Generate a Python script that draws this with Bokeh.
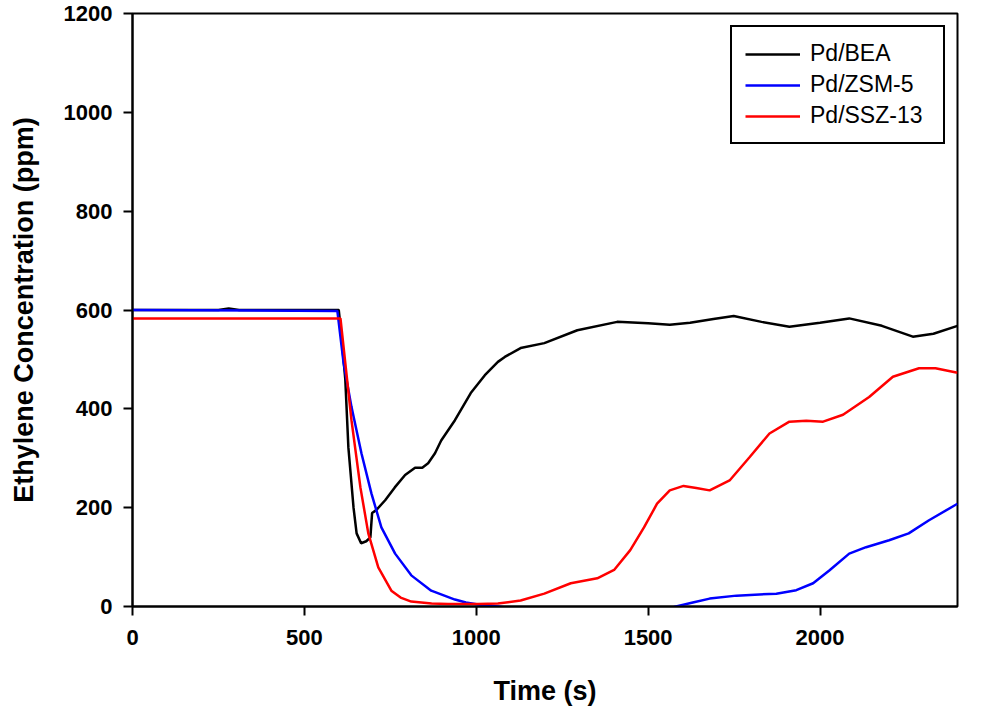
from bokeh.plotting import figure
from bokeh.models import Range1d, FixedTicker
from bokeh.embed import file_html
from bokeh.resources import INLINE

# ---- data ----
bea_t = [0, 250, 280, 310, 600, 606, 619, 628, 643, 652, 665, 680, 692, 697, 709, 735, 763, 793,
         822, 843, 860, 880, 898, 938, 984, 1025, 1063, 1083, 1129, 1198, 1294, 1410, 1500, 1563,
         1622, 1690, 1749, 1830, 1911, 2000, 2085, 2180, 2270, 2330, 2400]
bea_c = [600, 600, 603, 600, 600, 560, 460, 322, 200, 148, 128, 132, 140, 189, 195, 215, 241, 266,
         281, 281, 290, 310, 336, 377, 432, 468, 495, 505, 523, 533, 559, 576, 573, 570,
         574, 582, 588, 576, 566, 574, 583, 568, 546, 552, 568]

zsm_t = [0, 596, 614, 637, 666, 695, 724, 764, 811, 869, 938, 970, 1005, 1063, 1150, 1300, 1450, 1540,
         1575, 1630, 1679, 1757, 1873, 1931, 1980, 2027, 2085, 2134, 2201, 2258, 2316, 2400]
zsm_c = [600, 598, 493, 404, 310, 229, 160, 107, 63, 32, 14, 8, 4, 0, -8, -12, -10, -5,
         -1, 8, 16, 22, 26, 33, 47, 73, 107, 120, 134, 148, 174, 208]

ssz_t = [0, 605, 619, 637, 663, 686, 715, 753, 780, 811, 870, 918, 1005, 1063, 1129, 1198, 1275, 1352,
         1401, 1448, 1488, 1526, 1563, 1603, 1640, 1679, 1737, 1795, 1853, 1911, 1960, 2009, 2067,
         2143, 2212, 2288, 2336, 2400]
ssz_c = [583, 583, 493, 377, 241, 148, 79, 32, 18, 10, 6, 5, 5, 6, 12, 26, 47, 57,
         74, 114, 160, 208, 235, 244, 240, 235, 255, 302, 350, 374, 376, 374, 388,
         424, 465, 482, 482, 473]

x_ticks = [0, 500, 1000, 1500, 2000]
y_ticks = [0, 200, 400, 600, 800, 1000, 1200]

FONT = "Liberation Sans"

p = figure(width=980, height=708, output_backend="svg", toolbar_location=None,
           x_range=Range1d(0, 2400), y_range=Range1d(0, 1200))
p.min_border_left = 132
p.min_border_right = 23
p.min_border_top = 13
p.min_border_bottom = 100

p.xgrid.visible = False
p.ygrid.visible = False
p.outline_line_color = "black"
p.outline_line_width = 2
p.outline_line_alpha = 1.0
p.background_fill_color = "white"
p.border_fill_color = "white"

p.line(bea_t, bea_c, line_color="black", line_width=2.5, legend_label="Pd/BEA")
p.line(zsm_t, zsm_c, line_color="#0000ff", line_width=2.5, legend_label="Pd/ZSM-5")
p.line(ssz_t, ssz_c, line_color="#ff0000", line_width=2.5, legend_label="Pd/SSZ-13")

for ax in (p.xaxis[0], p.yaxis[0]):
    ax.axis_line_color = "black"
    ax.axis_line_width = 2
    ax.major_tick_line_color = "black"
    ax.major_tick_line_width = 2
    ax.major_tick_out = 9
    ax.major_tick_in = 0
    ax.minor_tick_line_color = None
    ax.major_label_text_font = FONT
    ax.major_label_text_font_style = "bold"
    ax.major_label_text_font_size = "22px"
    ax.major_label_text_color = "black"
    ax.axis_label_text_font = FONT
    ax.axis_label_text_font_style = "bold"
    ax.axis_label_text_font_size = "27px"
    ax.axis_label_text_color = "black"

p.xaxis[0].ticker = FixedTicker(ticks=x_ticks)
p.yaxis[0].ticker = FixedTicker(ticks=y_ticks)
p.xaxis[0].axis_label = "Time (s)"
p.yaxis[0].axis_label = "Ethylene Concentration (ppm)"
p.xaxis[0].major_label_standoff = 14
p.yaxis[0].major_label_standoff = 11
p.xaxis[0].axis_label_standoff = 28
p.yaxis[0].axis_label_standoff = 22

lg = p.legend[0]
lg.location = "top_right"
lg.margin = 12
lg.padding = 13
lg.spacing = 4
lg.glyph_width = 55
lg.glyph_height = 26
lg.label_height = 26
lg.label_width = 120
lg.label_standoff = 10
lg.label_text_font = FONT
lg.label_text_font_size = "23px"
lg.label_text_color = "black"
lg.border_line_color = "black"
lg.border_line_alpha = 1.0
lg.border_line_width = 2
lg.background_fill_color = "white"
lg.background_fill_alpha = 1.0

open("out.html", "w").write(file_html(p, INLINE))
